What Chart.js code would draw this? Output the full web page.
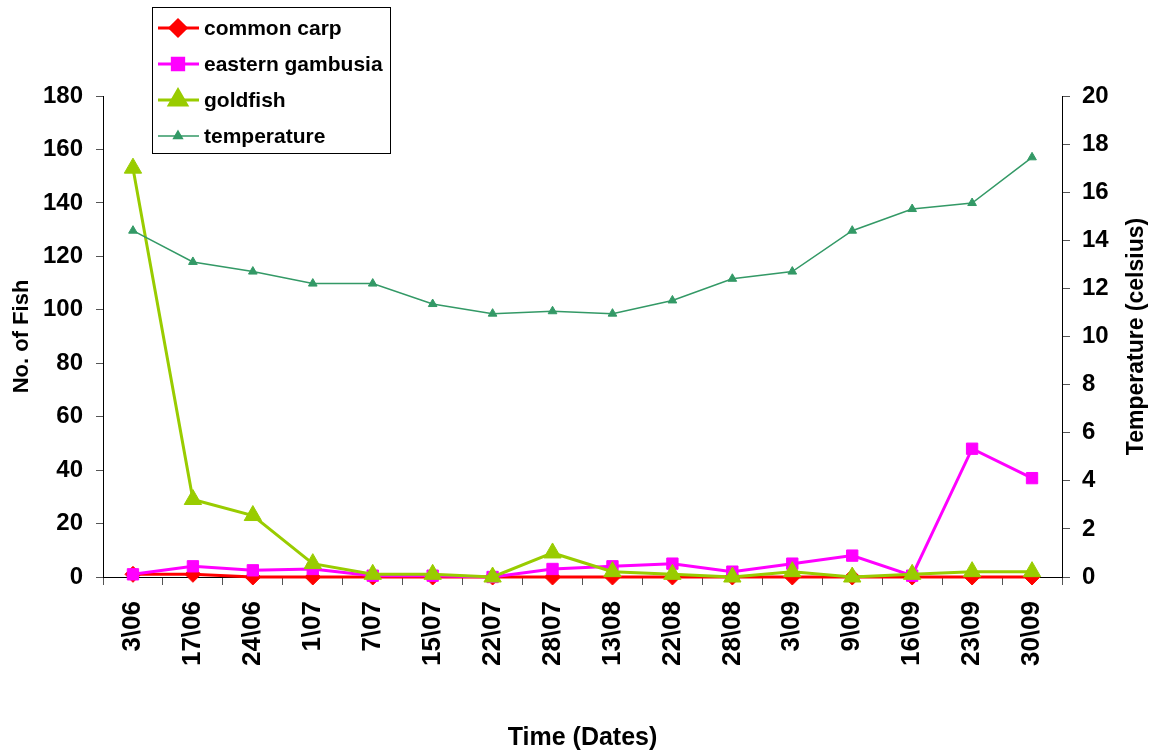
<!DOCTYPE html>
<html>
<head>
<meta charset="utf-8">
<script src="https://cdn.jsdelivr.net/npm/chart.js@4"></script>
<style>
    html, body { margin: 0; padding: 0; background: #fff; }
    #wrap { width: 1153px; height: 753px; }
</style>
</head>
<body>
<div id="wrap"><canvas id="fish_chart" width="1153" height="753"></canvas></div>
<script>
const dates = ['3\\06', '17\\06', '24\\06', '1\\07', '7\\07', '15\\07', '22\\07', '28\\07',
    '13\\08', '22\\08', '28\\08', '3\\09', '9\\09', '16\\09', '23\\09', '30\\09'];
const common_carp = [1, 1, 0, 0, 0, 0, 0, 0, 0, 0, 0, 0, 0, 0, 0, 0];
const eastern_gambusia = [1, 4, 2.5, 3, 0.5, 0.5, 0, 3, 4, 5, 2, 5, 8, 0.5, 48, 37];
const goldfish = [153, 29, 23, 5, 1, 1, 0, 9, 2, 1, 0, 2, 0, 1, 2, 2];
const temperature = [14.4, 13.1, 12.7, 12.2, 12.2, 11.35, 10.95, 11.05, 10.95, 11.5, 12.4, 12.7, 14.4, 15.3, 15.55, 17.45];

const FONT = "'Liberation Sans', Arial, sans-serif";

// legend box drawn on the canvas, top left over the plot
const boxLegend = {
    id: 'boxLegend',
    afterDraw(chart){
        const ctx = chart.ctx;
        ctx.save();
        ctx.strokeStyle = '#000';
        ctx.lineWidth = 1;
        ctx.strokeRect(152.5, 7.5, 238, 146);
        ctx.font = 'bold 21px ' + FONT;
        ctx.textBaseline = 'middle';
        chart.data.datasets.forEach(function(ds, i){
            const y = 28 + i * 36;
            ctx.strokeStyle = ds.borderColor;
            ctx.lineWidth = ds.borderWidth;
            ctx.beginPath();
            ctx.moveTo(158, y);
            ctx.lineTo(199, y);
            ctx.stroke();
            Chart.helpers.drawPoint(ctx, {
                pointStyle: ds.pointStyle,
                radius: ds.pointRadius,
                rotation: 0,
                borderWidth: 1
            }, 178, y);
            ctx.fillStyle = ds.pointBackgroundColor;
            ctx.fill();
            ctx.fillStyle = '#000';
            ctx.fillText(ds.label, 204, y + 1);
        });

        // right axis title, reading bottom to top
        const area = chart.chartArea;
        ctx.translate(1137, (area.top + area.bottom) / 2);
        ctx.rotate(-Math.PI / 2);
        ctx.textAlign = 'center';
        ctx.font = 'bold 23px ' + FONT;
        ctx.fillText('Temperature (celsius)', 0, 0);
        ctx.restore();
    }
};

function series(label, data, color, style, radius, width, axis, order){
    return {
        label: label,
        data: data,
        borderColor: color,
        backgroundColor: color,
        pointBackgroundColor: color,
        pointBorderColor: color,
        pointStyle: style,
        pointRadius: radius,
        pointHoverRadius: radius,
        borderWidth: width,
        pointBorderWidth: 1,
        tension: 0,
        yAxisID: axis,
        order: order,
        clip: false
    };
}

const ctx = document.getElementById('fish_chart').getContext('2d');
var chart = new Chart(ctx, {
    type: 'line',
    data: {
        labels: dates,
        datasets: [
            series('common carp', common_carp, '#FF0000', 'rectRot', 8, 3, 'y', 3),
            series('eastern gambusia', eastern_gambusia, '#FF00FF', 'rect', 8, 3, 'y', 2),
            series('goldfish', goldfish, '#99CC00', 'triangle', 10, 3, 'y', 1),
            series('temperature', temperature, '#339966', 'triangle', 5, 1.5, 'y1', 0)
        ]
    },
    options: {
        responsive: false,
        animation: false,
        layout: { padding: { top: 96, left: 0, right: 0, bottom: 0 } },
        plugins: {
            legend: { display: false },
            tooltip: { enabled: false }
        },
        scales: {
            x: {
                offset: true,
                grid: {
                    offset: true,
                    drawOnChartArea: false,
                    tickLength: 8,
                    tickColor: '#555'
                },
                border: { color: '#000', width: 1 },
                ticks: {
                    color: '#000',
                    font: { family: FONT, size: 26, weight: 'bold' },
                    minRotation: 90,
                    maxRotation: 90,
                    autoSkip: false,
                    padding: 16
                },
                title: {
                    display: true,
                    text: 'Time (Dates)',
                    color: '#000',
                    font: { family: FONT, size: 25, weight: 'bold' },
                    padding: { top: 4, bottom: 0 }
                },
                afterFit: function(scale){ scale.height = 176; }
            },
            y: {
                position: 'left',
                min: 0,
                max: 180,
                grid: {
                    drawOnChartArea: false,
                    tickLength: 7,
                    tickColor: '#555'
                },
                border: { color: '#000', width: 1 },
                ticks: {
                    stepSize: 20,
                    color: '#000',
                    padding: 13,
                    font: { family: FONT, size: 24, weight: 'bold' }
                },
                title: {
                    display: true,
                    text: 'No. of Fish',
                    color: '#000',
                    font: { family: FONT, size: 22, weight: 'bold' },
                    padding: { top: 9, bottom: 0 }
                },
                afterFit: function(scale){ scale.width = 103; }
            },
            y1: {
                position: 'right',
                min: 0,
                max: 20,
                grid: {
                    drawOnChartArea: false,
                    tickLength: 8,
                    tickColor: '#555'
                },
                border: { color: '#000', width: 1 },
                ticks: {
                    stepSize: 2,
                    color: '#000',
                    padding: 12,
                    font: { family: FONT, size: 24, weight: 'bold' }
                },
                afterFit: function(scale){ scale.width = 91; }
            }
        }
    },
    plugins: [boxLegend]
});
</script>
</body>
</html>
